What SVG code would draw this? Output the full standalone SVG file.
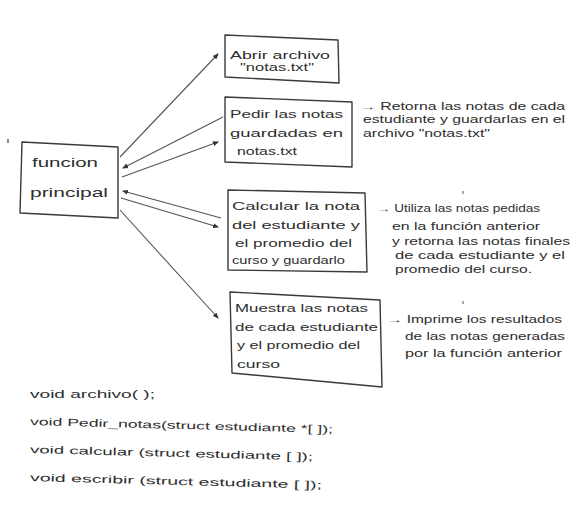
<svg xmlns="http://www.w3.org/2000/svg" width="579" height="529" viewBox="0 0 579 529">
<defs>
<marker id="ah" viewBox="0 0 6 6" refX="5" refY="3" markerWidth="6" markerHeight="6" orient="auto" markerUnits="userSpaceOnUse">
<path d="M0,0.5 L6,3 L0,5.5 Z" fill="#333"/>
</marker>
<style>
.bx{fill:none;stroke:#3a3a3a;stroke-width:1.4;stroke-linejoin:round}
.t{font-family:"Liberation Sans",Arial,sans-serif;font-size:10px;fill:#2e2e2e}
.m{font-family:"Liberation Sans",Arial,sans-serif;font-size:13px;fill:#2e2e2e}
.c{font-family:"Liberation Sans",Arial,sans-serif;font-size:10.5px;fill:#2e2e2e}
.ln{fill:none;stroke:#555;stroke-width:1.1}
</style>
</defs>
<rect width="579" height="529" fill="#ffffff"/>
<line x1="8" y1="139" x2="8" y2="143" stroke="#444" stroke-width="1.2"/>
<g id="main">
<polygon class="bx" points="22,142 118,147 118,218 20,213"/>
<text class="m" x="32" y="167" textLength="66" lengthAdjust="spacingAndGlyphs">funcion</text>
<text class="m" x="30" y="197" textLength="78" lengthAdjust="spacingAndGlyphs">principal</text>
</g>
<g id="abrir">
<polygon class="bx" points="225,35 338,40 339,83 225,77"/>
<text class="t" x="230" y="59" textLength="100" lengthAdjust="spacingAndGlyphs">Abrir archivo</text>
<text class="t" x="240" y="71" textLength="74" lengthAdjust="spacingAndGlyphs">"notas.txt"</text>
</g>
<g id="pedir">
<polygon class="bx" points="225,97 352,102 352,167 225,162"/>
<text class="t" x="230" y="118" textLength="113" lengthAdjust="spacingAndGlyphs">Pedir las notas</text>
<text class="t" x="230" y="137" textLength="113" lengthAdjust="spacingAndGlyphs">guardadas en</text>
<text class="t" x="237" y="155" textLength="60" lengthAdjust="spacingAndGlyphs">notas.txt</text>
</g>
<g id="calcular">
<polygon class="bx" points="228,190 365,193 367,272 228,270"/>
<text class="t" x="232" y="210" textLength="128" lengthAdjust="spacingAndGlyphs">Calcular la nota</text>
<text class="t" x="232" y="229" textLength="128" lengthAdjust="spacingAndGlyphs">del estudiante y</text>
<text class="t" x="235" y="247" textLength="117" lengthAdjust="spacingAndGlyphs">el promedio del</text>
<text class="t" x="232" y="264" textLength="113" lengthAdjust="spacingAndGlyphs">curso y guardarlo</text>
</g>
<g id="muestra">
<polygon class="bx" points="230,292 380,300 382,387 232,373"/>
<text class="t" x="235" y="312" textLength="133" lengthAdjust="spacingAndGlyphs">Muestra las notas</text>
<text class="t" x="235" y="331" textLength="143" lengthAdjust="spacingAndGlyphs">de cada estudiante</text>
<text class="t" x="237" y="349" textLength="123" lengthAdjust="spacingAndGlyphs">y el promedio del</text>
<text class="t" x="237" y="368" textLength="43" lengthAdjust="spacingAndGlyphs">curso</text>
</g>
<g id="nota-pedir">
<text class="t" x="360" y="110" textLength="205" lengthAdjust="spacingAndGlyphs">→ Retorna las notas de cada</text>
<text class="t" x="363" y="123" textLength="202" lengthAdjust="spacingAndGlyphs">estudiante y guardarlas en el</text>
<text class="t" x="363" y="137" textLength="127" lengthAdjust="spacingAndGlyphs">archivo "notas.txt"</text>
</g>
<g id="nota-calcular">
<line x1="463" y1="191" x2="463" y2="194" stroke="#555" stroke-width="1"/>
<text class="t" x="377" y="212" textLength="163" lengthAdjust="spacingAndGlyphs">→ Utiliza las notas pedidas</text>
<text class="t" x="392" y="230" textLength="148" lengthAdjust="spacingAndGlyphs">en la función anterior</text>
<text class="t" x="392" y="245" textLength="178" lengthAdjust="spacingAndGlyphs">y retorna las notas finales</text>
<text class="t" x="395" y="259" textLength="170" lengthAdjust="spacingAndGlyphs">de cada estudiante y el</text>
<text class="t" x="395" y="273" textLength="137" lengthAdjust="spacingAndGlyphs">promedio del curso.</text>
</g>
<g id="nota-muestra">
<line x1="463" y1="301" x2="463" y2="304" stroke="#555" stroke-width="1"/>
<text class="t" x="387" y="323" textLength="175" lengthAdjust="spacingAndGlyphs">→ Imprime los resultados</text>
<text class="t" x="405" y="340" textLength="160" lengthAdjust="spacingAndGlyphs">de las notas generadas</text>
<text class="t" x="405" y="357" textLength="157" lengthAdjust="spacingAndGlyphs">por la función anterior</text>
</g>
<g id="connectors">
<line class="ln" x1="120" y1="157" x2="218" y2="54" marker-end="url(#ah)"/>
<line class="ln" x1="223" y1="117" x2="123" y2="168" marker-end="url(#ah)"/>
<line class="ln" x1="122" y1="177" x2="218" y2="142" marker-end="url(#ah)"/>
<line class="ln" x1="221" y1="218" x2="123" y2="191" marker-end="url(#ah)"/>
<line class="ln" x1="121" y1="198" x2="218" y2="227" marker-end="url(#ah)"/>
<line class="ln" x1="120" y1="210" x2="218" y2="318" marker-end="url(#ah)"/>
</g>
<g id="prototipos">
<text class="c" x="30" y="398" textLength="125" lengthAdjust="spacingAndGlyphs">void archivo( );</text>
<text class="c" x="30" y="425" textLength="303" lengthAdjust="spacingAndGlyphs" transform="rotate(1.5 30 425)">void Pedir_notas(struct estudiante *[ ]);</text>
<text class="c" x="30" y="453" textLength="283" lengthAdjust="spacingAndGlyphs" transform="rotate(1.5 30 453)">void calcular (struct estudiante [ ]);</text>
<text class="c" x="30" y="481" textLength="292" lengthAdjust="spacingAndGlyphs" transform="rotate(1.5 30 481)">void escribir (struct estudiante [ ]);</text>
</g>
</svg>
